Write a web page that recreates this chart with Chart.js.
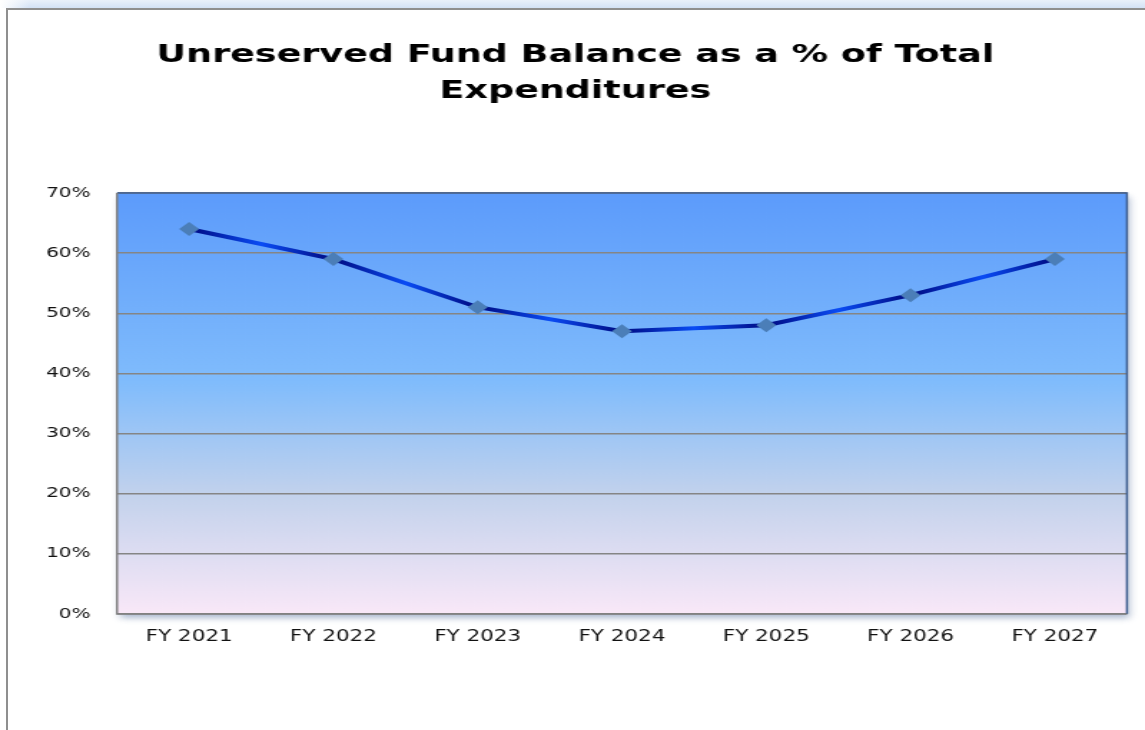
<!DOCTYPE html>
<html>
<head>
<meta charset="utf-8">
<title>Unreserved Fund Balance</title>
<script src="https://cdn.jsdelivr.net/npm/chart.js@4/dist/chart.umd.min.js"></script>
<style>
  html, body { margin: 0; padding: 0; background: #fff; overflow: hidden; }
  .top-strip {
    position: absolute; left: 0; top: 0; width: 1145px; height: 8px;
    background: linear-gradient(to right, #ffffff 0px, #d3e2f6 30px, #d3e2f6 100%);
  }
  .top-strip::after {
    content: ''; position: absolute; left: 0; top: 0; right: 0; bottom: 0;
    background: linear-gradient(to bottom, rgba(255,255,255,0.5), rgba(255,255,255,0));
  }
  .frame {
    position: absolute; left: 6px; top: 8px; width: 1150px; height: 740px;
    border-left: 2px solid #8f8f8f; border-top: 2px solid #8f8f8f;
  }
  #chart { position: absolute; left: 0; top: 0; }
</style>
</head>
<body>
<div class="top-strip"></div>
<div class="frame"></div>
<!-- drawn at 800 wide, shown 1145 wide: the whole chart is stretched sideways -->
<canvas id="chart" width="800" height="730" style="width:1145px;height:730px"></canvas>

<script>
// fiscal years and unreserved balance as % of expenditures
const fiscalYears = ['FY 2021', 'FY 2022', 'FY 2023', 'FY 2024', 'FY 2025', 'FY 2026', 'FY 2027'];
const balancePct = [64, 59, 51, 47, 48, 53, 59];
const yMin = 0;
const yMax = 70;
const yStep = 10;

const fontFamily = '"DejaVu Sans", Verdana, sans-serif';

// plot background: blue at the top fading to pink, with a soft drop shadow and border
const plotFrame = {
  id: 'plotFrame',
  afterLayout(chart) {
    // centre the title on the full canvas, not on the padded layout box
    chart.titleBlock.left = 0;
    chart.titleBlock.right = chart.width + 4;
  },
  beforeDraw(chart) {
    const { ctx, chartArea: a } = chart;
    ctx.save();
    ctx.shadowColor = 'rgba(70, 100, 150, 0.45)';
    ctx.shadowBlur = 6;
    ctx.shadowOffsetX = 2;
    ctx.shadowOffsetY = 4;
    const g = ctx.createLinearGradient(0, a.top, 0, a.bottom);
    g.addColorStop(0, '#5c9bfb');
    g.addColorStop(0.45, '#80bcfc');
    g.addColorStop(0.72, '#c3d2ec');
    g.addColorStop(1, '#f9e8f8');
    ctx.fillStyle = g;
    ctx.fillRect(a.left, a.top, a.right - a.left, a.bottom - a.top);
    ctx.restore();
  },
  afterDraw(chart) {
    const { ctx, chartArea: a } = chart;
    ctx.save();
    ctx.lineWidth = 1.5;
    ctx.strokeStyle = '#3f5f90';
    ctx.beginPath();
    ctx.moveTo(a.left, a.top);
    ctx.lineTo(a.right, a.top);
    ctx.lineTo(a.right, a.bottom);
    ctx.stroke();
    ctx.strokeStyle = '#808080';
    ctx.beginPath();
    ctx.moveTo(a.left, a.top);
    ctx.lineTo(a.left, a.bottom);
    ctx.lineTo(a.right, a.bottom);
    ctx.stroke();
    ctx.restore();
  }
};

// navy / bright blue banding along the line
function lineGradient(context) {
  const { ctx, chartArea: a } = context.chart;
  if (!a) return '#0a3ad8';
  const g = ctx.createLinearGradient(a.left, 0, a.right, 0);
  const n = fiscalYears.length;
  g.addColorStop(0, '#000a80');
  for (let i = 0; i < n; i++) {
    g.addColorStop((i + 0.5) / n, '#000a80');
    if (i < n - 1) g.addColorStop((i + 1) / n, '#0a4cf5');
  }
  g.addColorStop(1, '#000a80');
  return g;
}

new Chart(document.getElementById('chart'), {
  type: 'line',
  data: {
    labels: fiscalYears,
    datasets: [{
      data: balancePct,
      borderColor: lineGradient,
      borderWidth: 4,
      tension: 0,
      pointStyle: 'rectRot',
      pointRadius: 7,
      pointBackgroundColor: '#4b7eb8',
      pointBorderColor: '#4b7eb8',
      pointBorderWidth: 0
    }]
  },
  options: {
    responsive: false,
    animation: false,
    devicePixelRatio: 1,
    layout: { padding: { left: 0, right: 12.6, top: 0, bottom: 0 } },
    plugins: {
      legend: { display: false },
      tooltip: { enabled: false },
      title: {
        display: true,
        text: ['Unreserved Fund Balance as a % of Total', 'Expenditures'],
        color: '#000',
        font: { family: fontFamily, size: 25.5, weight: 'bold', lineHeight: 1.41 },
        padding: { top: 37, bottom: 84 }
      }
    },
    scales: {
      x: {
        offset: true,
        grid: { display: false, drawTicks: false },
        border: { display: false },
        ticks: { color: '#111', font: { family: fontFamily, size: 15 }, padding: 14, maxRotation: 0 },
        afterFit(scale) { scale.height = 116; }
      },
      y: {
        min: yMin,
        max: yMax,
        grid: { color: '#858585', lineWidth: 1.4, drawTicks: false },
        border: { display: false },
        ticks: {
          stepSize: yStep,
          color: '#111',
          font: { family: fontFamily, size: 14 },
          padding: 18.5,
          callback: v => v + '%'
        },
        afterFit(scale) { scale.width = 81.75; }
      }
    }
  },
  plugins: [plotFrame]
});
</script>
</body>
</html>
